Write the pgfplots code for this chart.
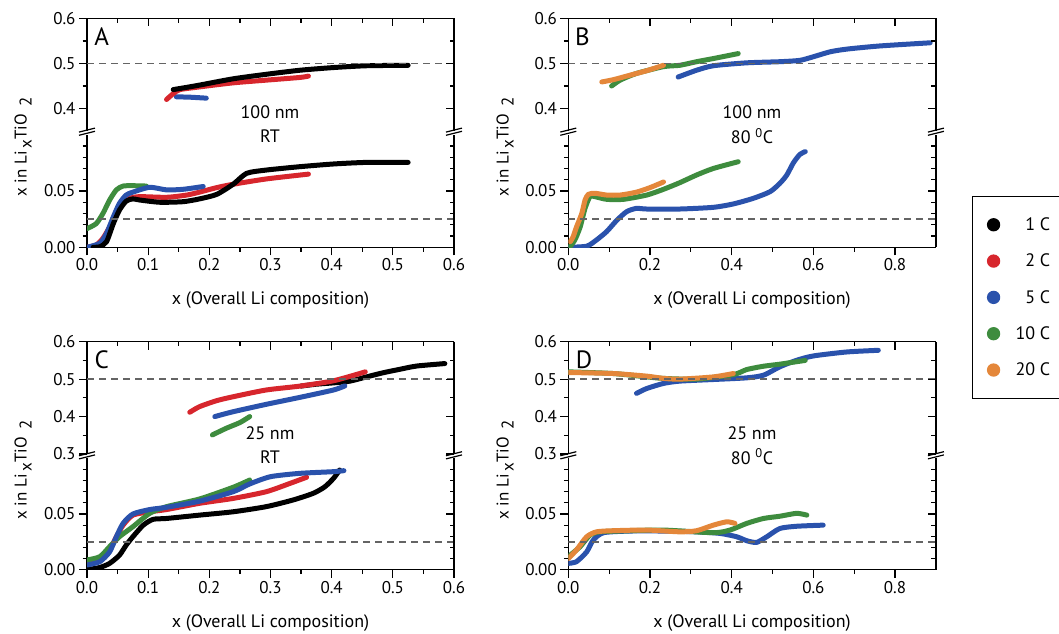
\documentclass[border=0pt]{standalone}
\usepackage{fontspec}
\setmainfont{PT Sans}
\usepackage{pgfplots}
\pgfplotsset{compat=1.18}
\definecolor{cred}{RGB}{215,38,45}
\definecolor{cblue}{RGB}{42,82,172}
\definecolor{cgreen}{RGB}{62,140,62}
\definecolor{corange}{RGB}{228,135,58}
\definecolor{dgray}{RGB}{100,100,100}
\newcommand{\fs}{\fontsize{17}{20}\selectfont}
\newcommand{\fl}{\fontsize{18}{21}\selectfont}
\pgfplotsset{
  base/.style={anchor=south west, scale only axis,
    axis line style={line width=1.3pt},
    every tick/.style={line width=1.2pt,black},
    major tick length=8pt, minor tick length=4.5pt,
    tick label style={font=\fs}, /pgf/number format/assume math mode=true},
  noarr/.style={x axis line style={-}, y axis line style={-}},
  Ax/.style={xmin=0,xmax=0.6,xtick={0,0.1,0.2,0.3,0.4,0.5,0.6},
    xticklabels={0.0,0.1,0.2,0.3,0.4,0.5,0.6},minor xtick={0.05,0.15,0.25,0.35,0.45,0.55}},
  Bx/.style={xmin=0,xmax=0.9,xtick={0,0.2,0.4,0.6,0.8},
    xticklabels={0.0,0.2,0.4,0.6,0.8},minor xtick={0.1,0.3,0.5,0.7}},
  upA/.style={ymin=0.35,ymax=0.6,ytick={0.4,0.5,0.6},yticklabels={0.4,0.5,0.6},minor ytick={0.45,0.55},height=112.5pt},
  upC/.style={ymin=0.3,ymax=0.6,ytick={0.3,0.4,0.5,0.6},yticklabels={0.3,0.4,0.5,0.6},minor ytick={0.35,0.45,0.55},height=112.3pt},
  low/.style={ymin=0,ymax=0.1,ytick={0,0.05},yticklabels={0.00,0.05},
    minor ytick={0.01,0.02,0.03,0.04,0.06,0.07,0.08,0.09}},
  upData/.style={axis x line=none, axis y line=left, tick align=outside, noarr},
  upOver/.style={axis x line=top, axis y line=right, tick align=inside, xticklabels={}, yticklabels={}, noarr},
  lowData/.style={axis x line=bottom, axis y line=left, tick align=outside, noarr},
  lowOver/.style={axis x line=none, axis y line=right, tick align=inside, yticklabels={}, clip=false, noarr},
  cur/.style={line width=5pt, line join=round, line cap=round, smooth, tension=0.4},
  ref/.style={dgray, dash pattern=on 7pt off 5pt, line width=1.8pt},
}
\newcommand{\brk}{%
  \draw[line width=1.2pt] ([xshift=-8pt,yshift=-0.6pt]rel axis cs:0,1) -- ([xshift=8pt,yshift=3.4pt]rel axis cs:0,1);
  \draw[line width=1.2pt] ([xshift=-8pt,yshift=2.6pt]rel axis cs:0,1) -- ([xshift=8pt,yshift=6.6pt]rel axis cs:0,1);
  \draw[line width=1.2pt] ([xshift=-8pt,yshift=-0.6pt]rel axis cs:1,1) -- ([xshift=8pt,yshift=3.4pt]rel axis cs:1,1);
  \draw[line width=1.2pt] ([xshift=-8pt,yshift=2.6pt]rel axis cs:1,1) -- ([xshift=8pt,yshift=6.6pt]rel axis cs:1,1);}
\newcommand{\ylab}{x in Li\,\raisebox{-5pt}{x}TiO\,\raisebox{-5pt}{ 2}}
\begin{document}
\begin{tikzpicture}
\useasboundingbox (0pt,0pt) rectangle (1059pt,633pt);
% ===== Panel A =====
\begin{axis}[base,Ax,upA,upData,width=367pt,at={(87pt,502pt)}]
\addplot[cur,cblue] coordinates {(0.146,0.426)(0.17,0.425)(0.195,0.423)};
\addplot[cur,cred] coordinates {(0.13,0.42)(0.141,0.433)(0.152,0.442)(0.184,0.448)(0.239,0.457)(0.293,0.463)(0.348,0.469)(0.362,0.472)};
\addplot[cur,black] coordinates {(0.141,0.442)(0.163,0.447)(0.184,0.452)(0.239,0.466)(0.293,0.476)(0.348,0.485)(0.403,0.491)(0.457,0.495)(0.525,0.496)};
\addplot[ref] coordinates {(0,0.5)(0.6,0.5)};
\end{axis}
\begin{axis}[base,Ax,upA,upOver,width=367pt,at={(87pt,502pt)}]
\end{axis}
\begin{axis}[base,Ax,low,lowData,width=367pt,height=112.6pt,at={(87pt,385.7pt)}]
\addplot[cur,cgreen] coordinates {(0,0.0166)(0.015,0.021)(0.026,0.030)(0.037,0.042)(0.048,0.051)(0.059,0.0544)(0.075,0.0547)(0.097,0.0544)};
\addplot[cur,cred] coordinates {(0,0)(0.015,0.002)(0.026,0.008)(0.037,0.018)(0.048,0.030)(0.059,0.0396)(0.07,0.0435)(0.086,0.045)(0.13,0.0444)(0.163,0.0464)(0.184,0.049)(0.212,0.053)(0.239,0.056)(0.293,0.0607)(0.362,0.065)};
\addplot[cur,cblue] coordinates {(0,0)(0.021,0.0036)(0.032,0.0124)(0.043,0.027)(0.053,0.039)(0.064,0.0464)(0.075,0.049)(0.1025,0.0533)(0.13,0.051)(0.157,0.0515)(0.19,0.054)};
\addplot[cur,black] coordinates {(0.01,0)(0.021,0.0005)(0.032,0.005)(0.043,0.021)(0.053,0.033)(0.064,0.041)(0.075,0.043)(0.086,0.042)(0.119,0.040)(0.157,0.0405)(0.184,0.043)(0.212,0.047)(0.239,0.056)(0.261,0.0657)(0.293,0.0686)(0.348,0.0716)(0.403,0.074)(0.457,0.0754)(0.525,0.0754)};
\addplot[ref] coordinates {(0,0.025)(0.6,0.025)};
\end{axis}
\begin{axis}[base,Ax,low,lowOver,width=367pt,height=112.6pt,at={(87pt,385.7pt)}]
\brk
\end{axis}
% ===== Panel B =====
\begin{axis}[base,Bx,upA,upData,width=367.6pt,at={(568.3pt,502pt)}]
\addplot[cur,cblue] coordinates {(0.269,0.470)(0.314,0.485)(0.355,0.495)(0.437,0.5015)(0.518,0.504)(0.567,0.507)(0.6,0.515)(0.641,0.526)(0.682,0.532)(0.763,0.539)(0.886,0.546)};
\addplot[cur,cgreen] coordinates {(0.106,0.45)(0.127,0.463)(0.167,0.478)(0.233,0.493)(0.273,0.496)(0.314,0.504)(0.355,0.511)(0.416,0.522)};
\addplot[cur,corange] coordinates {(0.082,0.459)(0.11,0.464)(0.151,0.474)(0.192,0.484)(0.233,0.496)};
\addplot[ref] coordinates {(0,0.5)(0.9,0.5)};
\end{axis}
\begin{axis}[base,Bx,upA,upOver,width=367.6pt,at={(568.3pt,502pt)}]
\end{axis}
\begin{axis}[base,Bx,low,lowData,width=367.6pt,height=112.6pt,at={(568.3pt,385.7pt)}]
\addplot[cur,cblue] coordinates {(0,0)(0.045,0.001)(0.069,0.0065)(0.094,0.014)(0.118,0.0237)(0.143,0.0317)(0.167,0.0346)(0.192,0.034)(0.273,0.034)(0.355,0.0355)(0.404,0.0385)(0.453,0.0435)(0.494,0.0494)(0.518,0.0568)(0.535,0.0642)(0.551,0.075)(0.567,0.0825)(0.58,0.085)};
\addplot[cur,cgreen] coordinates {(0.004,0.0006)(0.016,0.0065)(0.029,0.018)(0.041,0.0346)(0.053,0.045)(0.065,0.045)(0.094,0.0426)(0.135,0.0426)(0.192,0.0464)(0.233,0.0515)(0.273,0.0574)(0.314,0.0642)(0.355,0.070)(0.416,0.076)};
\addplot[cur,corange] coordinates {(0.005,0.005)(0.012,0.0095)(0.02,0.018)(0.033,0.030)(0.041,0.042)(0.049,0.047)(0.065,0.048)(0.094,0.0464)(0.127,0.0464)(0.167,0.049)(0.2,0.053)(0.233,0.058)};
\addplot[ref] coordinates {(0,0.025)(0.9,0.025)};
\end{axis}
\begin{axis}[base,Bx,low,lowOver,width=367.6pt,height=112.6pt,at={(568.3pt,385.7pt)},
  legend style={at={(1.098,0.456)},anchor=north west,draw=black,line width=1.3pt,
    font=\fl,inner xsep=15pt,inner ysep=19pt,row sep=18pt,
    /tikz/every odd column/.append style={column sep=14pt}},
  legend cell align=right]
\addlegendimage{only marks,mark=*,mark size=6pt,black}
\addlegendimage{only marks,mark=*,mark size=6pt,cred}
\addlegendimage{only marks,mark=*,mark size=6pt,cblue}
\addlegendimage{only marks,mark=*,mark size=6pt,cgreen}
\addlegendimage{only marks,mark=*,mark size=6pt,corange}
\legend{1 C,2 C,5 C,10 C,20 C}
\brk
\end{axis}
% ===== Panel C =====
\begin{axis}[base,Ax,upC,upData,width=367pt,at={(87pt,179pt)}]
\addplot[cur,black] coordinates {(0.35,0.4815)(0.375,0.4865)(0.403,0.490)(0.43,0.4947)(0.457,0.506)(0.484,0.517)(0.512,0.5265)(0.539,0.535)(0.585,0.5416)};
\addplot[cur,cred] coordinates {(0.168,0.4115)(0.184,0.4265)(0.212,0.4425)(0.239,0.453)(0.293,0.471)(0.348,0.4814)(0.403,0.4956)(0.455,0.5195)};
\addplot[cur,cblue] coordinates {(0.209,0.400)(0.239,0.413)(0.293,0.4327)(0.348,0.4513)(0.403,0.471)(0.4216,0.482)};
\addplot[cur,cgreen] coordinates {(0.205,0.351)(0.228,0.369)(0.25,0.384)(0.266,0.400)};
\addplot[ref] coordinates {(0,0.5)(0.6,0.5)};
\end{axis}
\begin{axis}[base,Ax,upC,upOver,width=367pt,at={(87pt,179pt)}]
\end{axis}
\begin{axis}[base,Ax,low,lowData,width=367pt,height=111.4pt,at={(87pt,63.3pt)}]
\addplot[cur,black] coordinates {(0,0)(0.021,0.002)(0.037,0.0057)(0.053,0.013)(0.064,0.022)(0.075,0.0296)(0.092,0.040)(0.108,0.0452)(0.13,0.046)(0.184,0.049)(0.239,0.052)(0.293,0.0566)(0.337,0.0626)(0.37,0.0686)(0.389,0.0745)(0.403,0.082)(0.413,0.0895)};
\addplot[cur,cred] coordinates {(0,0.0057)(0.021,0.0087)(0.037,0.0177)(0.048,0.0296)(0.059,0.040)(0.075,0.049)(0.1025,0.052)(0.13,0.054)(0.184,0.0596)(0.239,0.064)(0.293,0.070)(0.332,0.0775)(0.359,0.083)};
\addplot[cur,cgreen] coordinates {(0,0.0087)(0.021,0.0117)(0.037,0.0207)(0.053,0.0296)(0.075,0.0386)(0.1025,0.0506)(0.13,0.0566)(0.184,0.0635)(0.239,0.074)(0.266,0.0805)};
\addplot[cur,cblue] coordinates {(0,0.0042)(0.021,0.0072)(0.037,0.016)(0.048,0.0296)(0.059,0.0416)(0.075,0.05)(0.1025,0.054)(0.13,0.056)(0.184,0.0615)(0.239,0.070)(0.266,0.077)(0.3,0.0835)(0.348,0.0865)(0.403,0.088)(0.42,0.0889)};
\addplot[ref] coordinates {(0,0.025)(0.6,0.025)};
\end{axis}
\begin{axis}[base,Ax,low,lowOver,width=367pt,height=111.4pt,at={(87pt,63.3pt)}]
\brk
\end{axis}
% ===== Panel D =====
\begin{axis}[base,Bx,upC,upData,width=367.6pt,at={(568.3pt,179pt)}]
\addplot[cur,cblue] coordinates {(0.167,0.462)(0.192,0.475)(0.233,0.4885)(0.273,0.4947)(0.355,0.499)(0.437,0.5035)(0.478,0.5106)(0.518,0.533)(0.559,0.5504)(0.6,0.562)(0.682,0.5726)(0.759,0.577)};
\addplot[cur,cgreen] coordinates {(0,0.5195)(0.11,0.515)(0.192,0.506)(0.233,0.502)(0.314,0.5)(0.404,0.512)(0.437,0.5257)(0.478,0.5345)(0.518,0.54)(0.58,0.550)};
\addplot[cur,corange] coordinates {(0,0.5177)(0.11,0.515)(0.192,0.508)(0.233,0.502)(0.273,0.500)(0.355,0.506)(0.404,0.515)};
\addplot[ref] coordinates {(0,0.5)(0.9,0.5)};
\end{axis}
\begin{axis}[base,Bx,upC,upOver,width=367.6pt,at={(568.3pt,179pt)}]
\end{axis}
\begin{axis}[base,Bx,low,lowData,width=367.6pt,height=111.4pt,at={(568.3pt,63.3pt)}]
\addplot[cur,cblue] coordinates {(0,0.0057)(0.02,0.0072)(0.045,0.016)(0.061,0.0266)(0.086,0.0332)(0.151,0.0347)(0.233,0.0347)(0.314,0.034)(0.371,0.0326)(0.412,0.0296)(0.437,0.026)(0.461,0.0245)(0.486,0.0296)(0.518,0.037)(0.559,0.039)(0.624,0.040)};
\addplot[cur,cgreen] coordinates {(0,0.0117)(0.029,0.0207)(0.053,0.031)(0.078,0.034)(0.151,0.035)(0.233,0.0356)(0.355,0.0332)(0.396,0.0356)(0.437,0.0416)(0.478,0.046)(0.518,0.048)(0.559,0.0506)(0.584,0.049)};
\addplot[cur,corange] coordinates {(0,0.010)(0.02,0.0177)(0.045,0.0296)(0.069,0.034)(0.11,0.035)(0.192,0.0356)(0.273,0.034)(0.314,0.035)(0.355,0.040)(0.388,0.043)(0.408,0.0416)};
\addplot[ref] coordinates {(0,0.025)(0.9,0.025)};
\end{axis}
\begin{axis}[base,Bx,low,lowOver,width=367.6pt,height=111.4pt,at={(568.3pt,63.3pt)}]
\brk
\end{axis}
% ===== texts =====
\begin{scope}[every node/.style={font=\fl}]
\node[font=\fontsize{25}{28}\selectfont] at (101.7pt,596.3pt) {A};
\node[font=\fontsize{25}{28}\selectfont] at (582.5pt,596.3pt) {B};
\node[font=\fontsize{25}{28}\selectfont] at (101.7pt,273pt) {C};
\node[font=\fontsize{25}{28}\selectfont] at (584pt,273pt) {D};
\node at (270pt,521pt) {100 nm};
\node at (270pt,497pt) {RT};
\node at (752pt,521pt) {100 nm};
\node at (752pt,497pt) {80 \textsuperscript{0}C};
\node at (270pt,200.3pt) {25 nm};
\node at (270pt,176.3pt) {RT};
\node at (752pt,200.3pt) {25 nm};
\node at (752pt,176.3pt) {80 \textsuperscript{0}C};
\node at (270.5pt,333pt) {x (Overall Li composition)};
\node at (752pt,333pt) {x (Overall Li composition)};
\node at (270.5pt,10pt) {x (Overall Li composition)};
\node at (752pt,10pt) {x (Overall Li composition)};
\node[rotate=90,font=\fs] at (23pt,486pt) {\ylab};
\node[rotate=90,font=\fs] at (505pt,486pt) {\ylab};
\node[rotate=90,font=\fs] at (23pt,163pt) {\ylab};
\node[rotate=90,font=\fs] at (505pt,163pt) {\ylab};
\end{scope}
\end{tikzpicture}
\end{document}
